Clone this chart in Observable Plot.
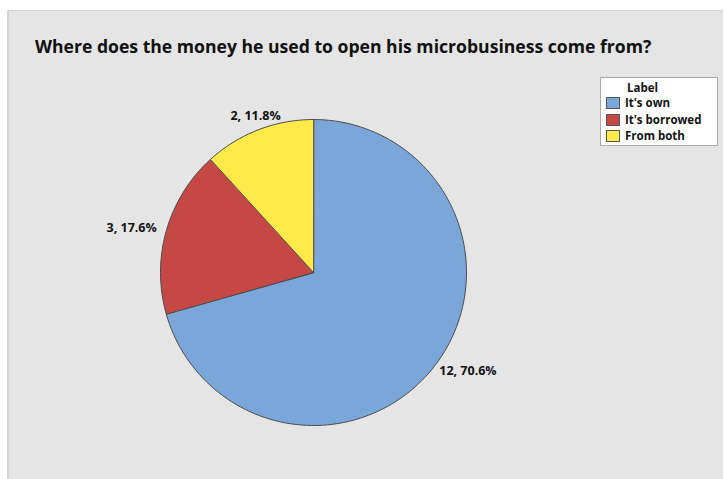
<!DOCTYPE html>
<html>
<head>
<meta charset="utf-8">
<script src="https://cdn.jsdelivr.net/npm/d3@7"></script>
<script src="https://cdn.jsdelivr.net/npm/@observablehq/plot@0.6"></script>
<style>
  body { margin: 0; background: #ffffff; font-family: "Open Sans", "Noto Sans", sans-serif; }
  #wrap { position: relative; width: 725px; height: 479px; overflow: hidden; }
  #panel { position: absolute; left: 7px; top: 10px; width: 716px; height: 469px; background: #e5e5e5;
           border-top: 1px solid #d2d2d2; border-left: 2px solid #d6d6d6; box-sizing: border-box; }
  #title { position: absolute; left: 35px; top: 34px; font-size: 17.6px; font-weight: bold; color: #111; white-space: nowrap; }
  #legend { position: absolute; left: 600px; top: 77px; width: 118px; height: 69px; background: #fff;
            border: 1px solid #a9a9a9; box-sizing: border-box; font-size: 11.5px; font-weight: bold; color: #111; }
  #legend .hdr { position: absolute; left: 26px; top: 2px; line-height: 16px; }
  #legend .item { position: absolute; left: 5px; height: 14px; display: flex; align-items: center; line-height: 14px; }
  #legend .sw { width: 14px; height: 12px; border: 1px solid #555; box-sizing: border-box; margin-right: 5px; flex: none; }
  #plot { position: absolute; left: 0; top: 0; }
</style>
</head>
<body>
<div id="wrap">
  <div id="panel"></div>
  <div id="plot"></div>
  <div id="title"></div>
  <div id="legend"></div>
</div>
<script>
const titleText = "Where does the money he used to open his microbusiness come from?";
const legendTitle = "Label";
const categories = ["It's own", "It's borrowed", "From both"];
const counts = [12, 3, 2];
const colors = ["#7ba6d9", "#c64845", "#ffea4a"];

const total = d3.sum(counts);
const arcs = d3.pie().sort(null).value(d => d)(counts);

// polygon outlines of each slice, in unit-radius data space (y up)
const polys = [];
arcs.forEach((a, i) => {
  const cat = categories[i];
  polys.push({cat, x: 0, y: 0});
  const n = Math.max(2, Math.ceil((a.endAngle - a.startAngle) / (Math.PI / 90)));
  for (let k = 0; k <= n; k++) {
    const t = a.startAngle + (a.endAngle - a.startAngle) * k / n;
    polys.push({cat, x: Math.sin(t), y: Math.cos(t)});
  }
});

const labelR = {start: 1.03, middle: 1.085, end: 1.065};
const labelDy = {start: 4, middle: -2, end: 0};
const labels = arcs.map((a, i) => {
  const m = (a.startAngle + a.endAngle) / 2;
  const s = Math.sin(m);
  const anchor = Math.abs(s) < 0.5 ? "middle" : (s < 0 ? "end" : "start");
  const r = labelR[anchor];
  return {
    text: `${counts[i]}, ${(counts[i] / total * 100).toFixed(1)}%`,
    x: s * r, y: Math.cos(m) * r, anchor
  };
});

const cx = 313, cy = 272, R = 153;
const chart = Plot.plot({
  width: 725, height: 479,
  margin: 0,
  style: {background: "transparent", overflow: "visible"},
  x: {domain: [-1, 1], range: [cx - R, cx + R], axis: null},
  y: {domain: [-1, 1], range: [cy + R, cy - R], axis: null},
  color: {domain: categories, range: colors},
  marks: [
    Plot.line(polys, {x: "x", y: "y", z: "cat", fill: "cat", stroke: "#4d4d4d", strokeWidth: 1, curve: "linear-closed", strokeLinejoin: "round"}),
    ...["start", "middle", "end"].map(anc =>
      Plot.text(labels.filter(d => d.anchor === anc), {x: "x", y: "y", text: "text", textAnchor: anc,
        fontSize: 12.5, fontWeight: "bold", fill: "#111", fontFamily: "Open Sans",
        dx: anc === "middle" ? 2 : 0, dy: labelDy[anc]}))
  ]
});
document.getElementById("plot").appendChild(chart);
document.getElementById("title").textContent = titleText;

const leg = document.getElementById("legend");
const hdr = document.createElement("div");
hdr.className = "hdr"; hdr.textContent = legendTitle; leg.appendChild(hdr);
categories.forEach((c, i) => {
  const it = document.createElement("div");
  it.className = "item";
  it.style.top = (18 + i * 16.5) + "px";
  const sw = document.createElement("div");
  sw.className = "sw"; sw.style.background = colors[i];
  it.appendChild(sw);
  const tx = document.createElement("span"); tx.textContent = c;
  it.appendChild(tx);
  leg.appendChild(it);
});
</script>
</body>
</html>
